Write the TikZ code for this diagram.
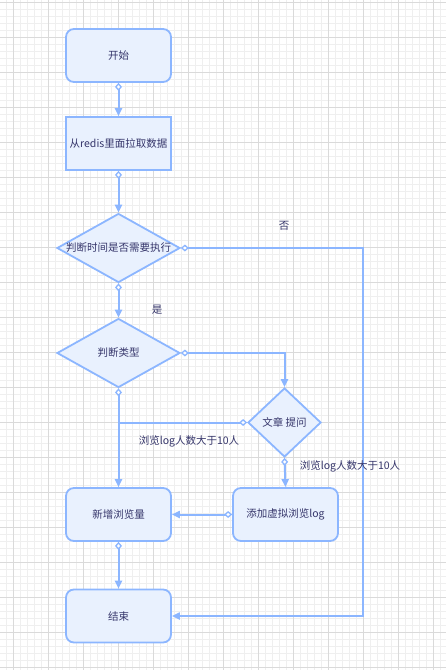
\documentclass[tikz,border=0pt]{standalone}
\usepackage{fontspec}
\setmainfont{Noto Sans CJK SC}
\usetikzlibrary{shapes.geometric,arrows.meta}
\definecolor{edgeblue}{HTML}{8CB6FF}
\definecolor{fillblue}{HTML}{E9F1FE}
\definecolor{txtcol}{HTML}{35356A}
\definecolor{gmajor}{HTML}{DADADA}
\definecolor{gminor}{HTML}{EFEFEF}
\tikzset{
  proc/.style={draw=edgeblue,fill=fillblue,line width=1.8pt,minimum width=105pt,minimum height=53pt,inner sep=0pt,text=txtcol,font=\fontsize{10.5}{12}\selectfont},
  rproc/.style={proc,rounded corners=8pt},
  decision/.style={diamond,draw=edgeblue,fill=fillblue,line width=1.8pt,inner sep=0pt,aspect=1},
  txt/.style={text=txtcol,font=\fontsize{10.5}{12}\selectfont,inner sep=0pt},
  conn/.style={draw=edgeblue,line width=2pt,{Diamond[open,fill=white,length=8pt,width=7pt,line width=1.3pt]}-{Triangle[length=8pt,width=7pt]}},
  connn/.style={draw=edgeblue,line width=2pt,{Diamond[open,fill=white,length=8pt,width=7pt,line width=1.3pt]}-},
}
\begin{document}
\begin{tikzpicture}[x=1pt,y=-1pt]
\useasboundingbox (0,0) rectangle (446,670);
\fill[white] (0,0) rectangle (446,670);
% grid
\foreach \i in {0,...,64} {
  \draw[gminor,line width=0.5pt] ({6.3+7*\i},0) -- ({6.3+7*\i},670);
}
\foreach \i in {0,...,96} {
  \draw[gminor,line width=0.5pt] (0,{2.3+7*\i}) -- (446,{2.3+7*\i});
}
\foreach \i in {0,...,12} {
  \draw[gmajor,line width=0.6pt] ({13.3+35*\i},0) -- ({13.3+35*\i},670);
}
\foreach \i in {0,...,19} {
  \draw[gmajor,line width=0.6pt] (0,{2.3+35*\i}) -- (446,{2.3+35*\i});
}
% nodes
\node[rproc] (n1) at (118.5,55.5) {开始};
\node[proc] (n2) at (118.5,143.5) {从redis里面拉取数据};
\node[decision,minimum width=123pt,minimum height=69pt] (d1) at (118.5,248) {};
\node[txt] (t1) at (d1) {判断时间是否需要执行};
\node[decision,minimum width=123pt,minimum height=69pt] (d2) at (118.5,353) {};
\node[txt] (t2) at (d2) {判断类型};
\node[decision,minimum width=73pt,minimum height=69pt] (d3) at (284.5,422.5) {};
\node[txt] (t3) at (d3) {文章 提问};
\node[rproc] (n5) at (118.5,514.5) {新增浏览量};
\node[rproc] (n4) at (285.5,514.5) {添加虚拟浏览log};
\node[rproc] (n6) at (118.5,616) {结束};
\coordinate (c1) at (363,248);
% edges
\draw[conn] (n1.south) -- (n2.north);
\draw[conn] (n2.south) -- (d1.north);
\draw[conn] (d1.south) -- (d2.north);
\draw[conn] (d1.east) -- (c1) |- (n6.east);
\draw[conn] (d2.east) -| (d3.north);
\draw[conn] (d2.south) -- (n5.north);
\draw[connn] (d3.west) -- (d3.west -| d2.south);
\draw[conn] (d3.south) -- (n4.north);
\draw[conn] (n4.west) -- (n5.east);
\draw[conn] (n5.south) -- (n6.north);
% labels
\node[txt] (l1) at (284,226) {否};
\node[txt] (l2) at (157,310) {是};
\node[txt] (l3) at (189,441) {浏览log人数大于10人};
\node[txt] (l4) at (350,466) {浏览log人数大于10人};
\end{tikzpicture}
\end{document}
